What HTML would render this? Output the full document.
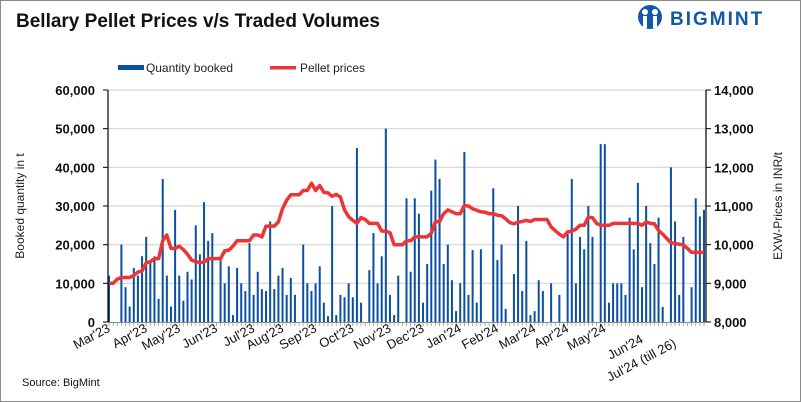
<!DOCTYPE html>
<html><head><meta charset="utf-8">
<style>
body{margin:0;background:#fff;}
svg{display:block;font-family:"Liberation Sans",Arial,sans-serif;}
</style></head>
<body>
<svg id="chart" width="801" height="402" viewBox="0 0 801 402">
<rect x="0.5" y="0.5" width="800" height="401" fill="#fff" stroke="#8a8a8a"/>
<text x="16" y="27" font-size="19" font-weight="bold" fill="#111">Bellary Pellet Prices v/s Traded Volumes</text>
<g>
<circle cx="650" cy="17" r="12" fill="#1457a8"/>
<circle cx="645" cy="12" r="3" fill="#fff"/><circle cx="655" cy="12" r="3" fill="#fff"/>
<rect x="643" y="16" width="4" height="12" fill="#fff"/><rect x="653" y="16" width="4" height="12" fill="#fff"/>
<text x="670" y="25" font-size="19" font-weight="bold" fill="#1457a8" letter-spacing="2">BIGMINT</text>
</g>
<g>
<rect x="118" y="65" width="26" height="5" fill="#0b4fa3"/>
<text x="146" y="72" font-size="12" fill="#222" textLength="87" lengthAdjust="spacingAndGlyphs">Quantity booked</text>
<rect x="270" y="66" width="26" height="3.5" fill="#ee3535"/>
<text x="300" y="72" font-size="12" fill="#222" textLength="65" lengthAdjust="spacingAndGlyphs">Pellet prices</text>
</g>
<g id="grid"></g>
<g id="bars"></g>
<path id="line" fill="none" stroke="#ee3535" stroke-width="3.5" stroke-linejoin="round"/>
<g id="axes"></g>
<text transform="translate(24,206) rotate(-90)" text-anchor="middle" font-size="12" fill="#222">Booked quantity in t</text>
<text transform="translate(782,206) rotate(-90)" text-anchor="middle" font-size="12" fill="#222">EXW-Prices in INR/t</text>
<text x="22" y="386" font-size="11" fill="#111">Source: BigMint</text>
</svg>
<script>
const quantity=[12,0,0,20,9,4,14,12,17,22,15.5,17,6,37,12,4,29,12,5.5,13,11,25,17.5,31,21,23,0,16,10,14.4,1.8,14,10,8,20.4,7,13,8.5,8,26,8.5,12,14,7,11.4,7,0,20,10,8,10,14.4,5,1.5,30,1.8,7,6.4,10,6.4,45,5,0,13.4,23,10,17,50,7,1.8,12,0,32,13,32,28,5,15,34,42,37,15,20,10.8,2.8,10,44,7,18.6,5,18.8,0,0,34.6,16,20,3.4,0,12.4,30,8,21,1.8,2.8,10.8,8,0,10,0,7,0,23,37,10,22,18.8,30,22,0,46,46,5,10,10,10,7,27,18.8,36,9,30,20.4,15,27,3.9,0,40,26,7,22,0,9,32,27.3,29];
const price=[9000,9000,9110,9150,9150,9150,9200,9290,9320,9530,9560,9640,9640,10100,10250,9900,9900,9960,9870,9750,9600,9560,9540,9550,9640,9640,9640,9640,9840,9860,9960,10100,10100,10100,10100,10250,10250,10200,10480,10480,10480,10590,10930,11150,11290,11290,11290,11400,11400,11590,11400,11530,11350,11340,11250,11300,11230,10900,10720,10630,10550,10700,10650,10550,10550,10550,10350,10350,10310,10000,10000,10000,10100,10100,10200,10200,10200,10200,10300,10590,10600,10800,10900,10850,10800,10800,11010,11000,10930,10890,10850,10840,10800,10800,10760,10750,10670,10570,10540,10580,10600,10630,10600,10650,10650,10650,10650,10460,10360,10270,10200,10330,10350,10400,10500,10500,10710,10700,10550,10500,10500,10500,10550,10550,10550,10550,10550,10550,10550,10500,10590,10550,10540,10370,10270,10160,10050,10030,10010,10000,9900,9800,9800,9800,9800];
const leftTicks=[0,10000,20000,30000,40000,50000,60000];
const rightTicks=[8000,9000,10000,11000,12000,13000,14000];
const monthLabels=["Mar'23","Apr'23","May'23","Jun'23","Jul'23","Aug'23","Sep'23","Oct'23","Nov'23","Dec'23","Jan'24","Feb'24","Mar'24","Apr'24","May'24","Jun'24","Jul'24 (till 26)"];
const monthAt=[0,9,17,26,35,42,50,59,68,76,85,94,103,111,120,129,137];

const NS="http://www.w3.org/2000/svg";
const X0=109,X1=704,YT=90,YB=322,N=quantity.length;
const xs=i=>X0+(X1-X0)*i/(N-1);
const yL=v=>YB-(YB-YT)*v/60000;
const yR=v=>YB-(YB-YT)*(v-8000)/6000;
function mk(t,a,p){const e=document.createElementNS(NS,t);for(const k in a)e.setAttribute(k,a[k]);p.appendChild(e);return e;}
const grid=document.getElementById('grid'),bars=document.getElementById('bars'),axes=document.getElementById('axes');
leftTicks.forEach((v,k)=>{
 const y=yL(v);
 if(v>0){const g=mk('line',{x1:X0,x2:X1+2,y1:y,y2:y,stroke:'#d4d4d4','stroke-width':1.2},grid);
 
 }
 const t=mk('text',{x:95,y:y+5,'text-anchor':'end','font-size':13,'font-weight':'bold',fill:'#111'},axes);
 t.textContent=v.toLocaleString('en-US');
 
 
 mk('line',{x1:103,x2:108,y1:y,y2:y,stroke:'#000'},axes);
});
rightTicks.forEach(v=>{
 const y=yR(v);
 const t=mk('text',{x:714,y:y+5,'font-size':13,'font-weight':'bold',fill:'#111'},axes);
 t.textContent=v.toLocaleString('en-US');
 
 
 mk('line',{x1:706,x2:711,y1:y,y2:y,stroke:'#000'},axes);
});
mk('line',{x1:108,x2:108,y1:YT,y2:YB,stroke:'#000','stroke-width':1.2},axes);
mk('line',{x1:706,x2:706,y1:YT,y2:YB,stroke:'#000','stroke-width':1.2},axes);
mk('line',{x1:107,x2:707,y1:YB+0.5,y2:YB+0.5,stroke:'#888'},axes);
for(let i=0;i<N;i++){mk('line',{x1:xs(i),x2:xs(i),y1:YB,y2:YB+4,stroke:'#999','stroke-width':0.8},axes);}
quantity.forEach((v,i)=>{
 if(v<=0)return;
 const y=yL(v*1000);
 const r=mk('rect',{x:xs(i)-1,y:y,width:2,height:YB-y,fill:'#0b4fa3'},bars);
 
 
});
document.getElementById('line').setAttribute('d',price.map((v,i)=>(i?'L':'M')+xs(i).toFixed(1)+' '+yR(v).toFixed(1)).join(' '));
monthLabels.forEach((s,k)=>{
 const x=xs(monthAt[k])+2;
 const y=k==15?342:(k==16?346:331);
 const t=mk('text',{transform:`translate(${x},${y}) rotate(-28)`,'text-anchor':'end','font-size':13,fill:'#111'},axes);
 t.textContent=s;
 
 
});
</script>
</body></html>
